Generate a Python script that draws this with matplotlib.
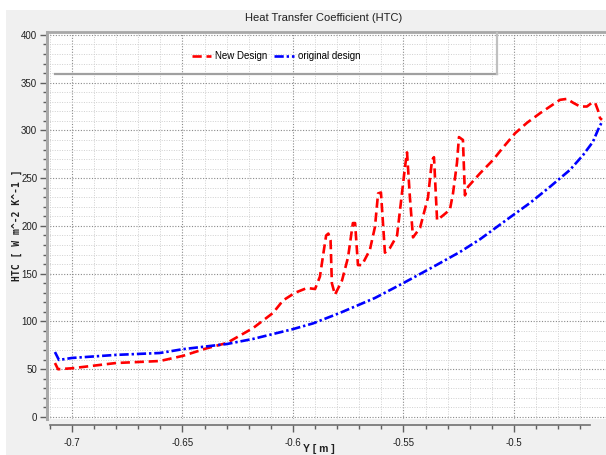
import matplotlib
matplotlib.use('Agg')
import matplotlib.pyplot as plt
from matplotlib.ticker import FixedLocator, MultipleLocator
from matplotlib.patches import Rectangle
from matplotlib.lines import Line2D

plt.rcParams['font.family'] = ['Liberation Sans', 'DejaVu Sans']

# HTC along the wall, new design
new_y = [-0.7077, -0.7063, -0.7000, -0.6801, -0.6602, -0.6498, -0.6389, -0.6299,
         -0.6181, -0.6090, -0.6045, -0.5991, -0.5937, -0.5900, -0.5878, -0.5860,
         -0.5850, -0.5840, -0.5830, -0.5824, -0.5810, -0.5778, -0.5751, -0.5729,
         -0.5719, -0.5706, -0.5688, -0.5652, -0.5629, -0.5615, -0.5602, -0.5584,
         -0.5561, -0.5529, -0.5507, -0.5493, -0.5484, -0.5471, -0.5457, -0.5425,
         -0.5389, -0.5371, -0.5362, -0.5348, -0.5321, -0.5290, -0.5276, -0.5258,
         -0.5249, -0.5231, -0.5222, -0.5208, -0.5154, -0.5095, -0.5050, -0.4995,
         -0.4941, -0.4882, -0.4837, -0.4792, -0.4760, -0.4733, -0.4701, -0.4670,
         -0.4647, -0.4633, -0.4620, -0.4611, -0.4602]
new_htc = [56.5, 50, 51, 56.5, 58.6, 64, 72, 77.5,
           93, 109, 122, 130, 135, 134, 147, 175,
           190, 192, 185, 140, 128, 143, 167, 203,
           203, 159, 159, 175, 199, 234, 235, 172,
           177, 190, 234, 262, 277, 230, 188, 198,
           230, 269, 272, 206, 211, 217, 234, 266,
           293, 290, 232, 241, 255, 269, 282, 297,
           308, 318, 325, 332, 333, 329, 325, 325,
           329, 329, 321, 313, 311]

# HTC along the wall, original design
orig_y = [-0.7077, -0.7059, -0.7000, -0.6801, -0.6602, -0.6498, -0.6299, -0.6181,
          -0.6000, -0.5909, -0.5787, -0.5629, -0.5502, -0.5367, -0.5244, -0.5154,
          -0.5018, -0.4928, -0.4837, -0.4747, -0.4688, -0.4643, -0.4620, -0.4602]
orig_htc = [68, 59.7, 61.8, 65, 67, 71, 76.4, 81.7,
            92, 98, 109, 124.6, 140, 157, 172.8, 186,
            209, 224, 241, 258.6, 274, 288, 300.5, 309]

W, H = 606, 455
fig = plt.figure(figsize=(W / 100, H / 100), dpi=100)
fig.patch.set_facecolor('white')
# grey panel behind the chart
fig.patches.append(Rectangle((6 / W, 0), 1, 1 - 10 / H, transform=fig.transFigure,
                             facecolor='#f0f0f0', edgecolor='none', zorder=-10))

ax = fig.add_axes([47 / W, 1 - 419 / H, 1 - 47 / W, (419 - 32) / H])
ax.set_facecolor('white')
ax.set_xlim(-0.7113, -0.45837)
ax.set_ylim(-2.1, 403)

ax.plot(new_y, new_htc, color='#ff0000', lw=1.9, dashes=(3.5, 1.8), label='New Design', zorder=3)
ax.plot(orig_y, orig_htc, color='#0000ff', lw=1.9, dashes=(3.5, 1.1, 0.9, 1.1),
        label='original design', zorder=3)

# ticks and grid
ax.xaxis.set_major_locator(FixedLocator([-0.7, -0.65, -0.6, -0.55, -0.5]))
ax.xaxis.set_minor_locator(FixedLocator([-0.71 + 0.01 * i for i in range(25)]))
ax.set_xticklabels(['-0.7', '-0.65', '-0.6', '-0.55', '-0.5'])
ax.yaxis.set_major_locator(MultipleLocator(50))
ax.yaxis.set_minor_locator(MultipleLocator(10))
ax.grid(which='major', color='#8a8a8a', linestyle=(0, (1, 1.5)), lw=0.8)
ax.grid(which='minor', color='#d0d0d0', linestyle=(0, (1, 1.5)), lw=0.7)
ax.set_axisbelow(True)
ax.tick_params(which='major', length=5, width=1, color='#606060', labelsize=7, labelcolor='#202020')
ax.tick_params(which='minor', length=3, width=1, color='#606060')
ax.tick_params(axis='y', pad=2)
ax.tick_params(axis='x', pad=5)

ax.spines['right'].set_visible(False)
ax.spines['left'].set_color('#a8a8a8')
ax.spines['left'].set_linewidth(2.2)
ax.spines['top'].set_color('#a8a8a8')
ax.spines['top'].set_linewidth(2)
ax.spines['bottom'].set_position(('outward', 4))
ax.spines['bottom'].set_bounds(-0.70995, -0.4656)
ax.spines['bottom'].set_color('#707070')
ax.spines['bottom'].set_linewidth(1.2)

# legend box with shadow edges
leg = ax.legend(loc='center', ncol=2, frameon=False, fontsize=7,
                handlelength=2.0, columnspacing=0.7, handletextpad=0.4)
leg.set_bbox_to_anchor(((276 - 47) / (W - 47), (419 - 56) / (419 - 32)), transform=ax.transAxes)
fig.lines.append(Line2D([55 / W, 497 / W], [1 - 74 / H, 1 - 74 / H], transform=fig.transFigure,
                        color='#a0a0a0', lw=1.6))
fig.lines.append(Line2D([497 / W, 497 / W], [1 - 74 / H, 1 - 33 / H], transform=fig.transFigure,
                        color='#c0c0c0', lw=1.6))

fig.text(324 / W, 1 - 18 / H, 'Heat Transfer Coefficient (HTC)', ha='center', va='center',
         fontsize=8, color='#202020')
fig.text(17 / W, 1 - 225 / H, 'HTC [ W m^-2 K^-1 ]', rotation=90, ha='center', va='center',
         fontsize=7, fontweight='bold', family='DejaVu Sans Mono', color='#202020')
fig.text(319 / W, 1 - 449 / H, 'Y [ m ]', ha='center', va='center',
         fontsize=7.5, fontweight='bold', color='#202020')

fig.savefig('out.png', dpi=100)
